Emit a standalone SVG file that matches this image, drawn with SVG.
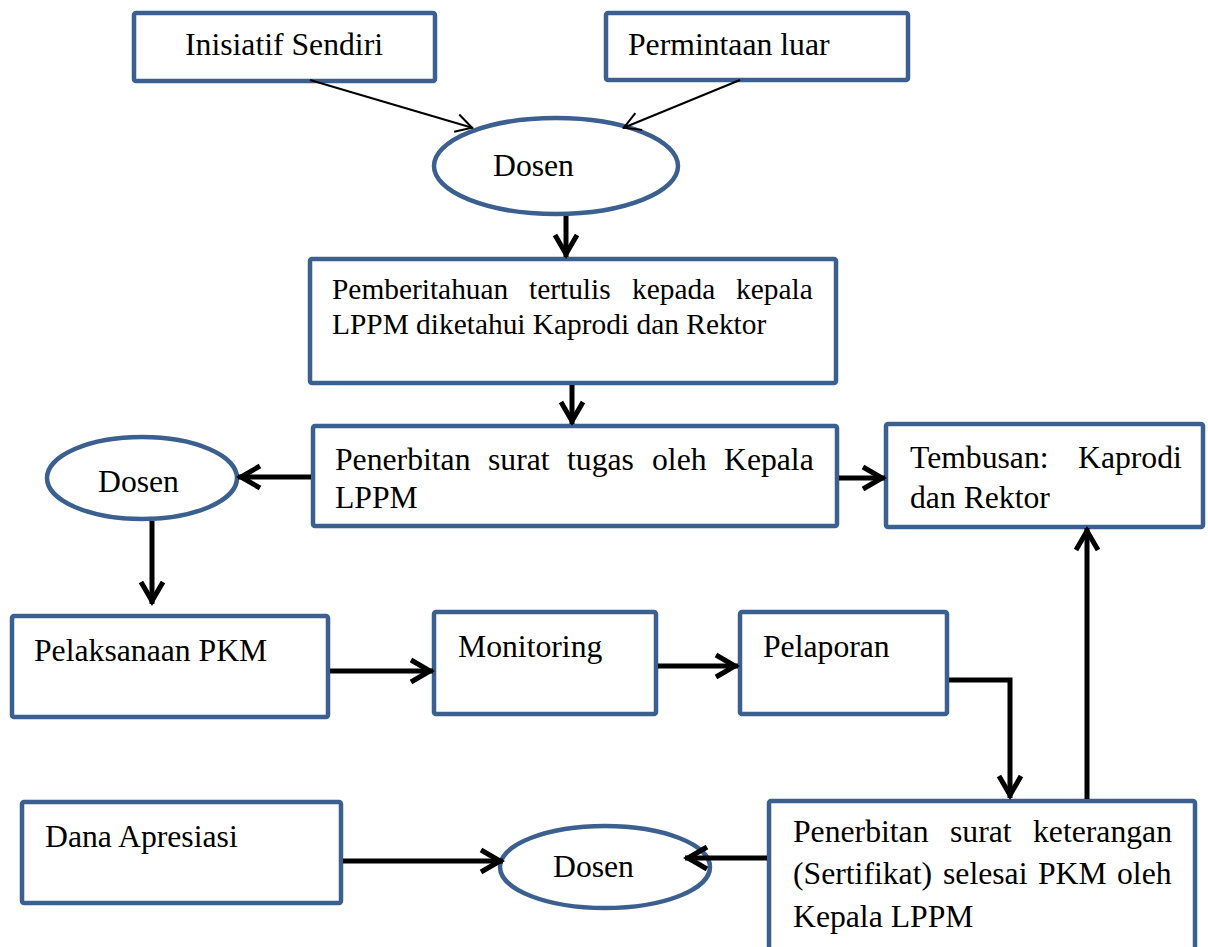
<svg xmlns="http://www.w3.org/2000/svg" width="1208" height="947" viewBox="0 0 1208 947">
<defs>
<style>
.box{fill:#fff;stroke:#3B5F8F;stroke-width:4.5}
.t{font-family:"Liberation Serif","Times New Roman",serif;font-size:31.7px;fill:#000}
.s{font-size:29.4px}
.c{fill:none;stroke:#000;stroke-width:5}
.thin{fill:none;stroke:#000;stroke-width:2}
</style>
<marker id="ah" markerUnits="userSpaceOnUse" markerWidth="40" markerHeight="40" refX="0" refY="0" viewBox="-30 -20 40 40" orient="auto" overflow="visible">
<path d="M-22,-11 L-3,0 L-22,11" fill="none" stroke="#000" stroke-width="5"/>
</marker>
<marker id="ahs" markerUnits="userSpaceOnUse" markerWidth="30" markerHeight="30" refX="0" refY="0" viewBox="-20 -15 30 30" orient="auto" overflow="visible">
<path d="M-17,-9 L-1,0 L-17,9" fill="none" stroke="#000" stroke-width="2"/>
</marker>
</defs>
<rect width="1208" height="947" fill="#fff"/>

<g id="inisiatif">
<rect class="box" x="134" y="13" width="301" height="68" rx="2"/>
<text class="t" x="185" y="55">Inisiatif Sendiri</text>
</g>
<g id="permintaan">
<rect class="box" x="606" y="13" width="302" height="67" rx="2"/>
<text class="t" x="628" y="55">Permintaan luar</text>
</g>
<g id="dosen1">
<ellipse class="box" cx="556" cy="166" rx="122" ry="48"/>
<text class="t" x="493" y="176">Dosen</text>
</g>
<g id="pemberitahuan">
<rect class="box" x="310" y="259" width="526" height="124" rx="2"/>
<text class="t s" y="299"><tspan x="332">Pemberitahuan</tspan><tspan x="529">tertulis</tspan><tspan x="632">kepada</tspan><tspan x="736">kepala</tspan></text>
<text class="t s" x="332" y="334">LPPM diketahui Kaprodi dan Rektor</text>
</g>
<g id="penerbitan-tugas">
<rect class="box" x="313" y="426" width="524" height="100" rx="2"/>
<text class="t" y="470"><tspan x="335">Penerbitan</tspan><tspan x="488">surat</tspan><tspan x="567">tugas</tspan><tspan x="652">oleh</tspan><tspan x="724">Kepala</tspan></text>
<text class="t" x="335" y="508">LPPM</text>
</g>
<g id="tembusan">
<rect class="box" x="886" y="424" width="317" height="103" rx="2"/>
<text class="t" y="468"><tspan x="910">Tembusan:</tspan><tspan x="1078">Kaprodi</tspan></text>
<text class="t" x="910" y="508">dan Rektor</text>
</g>
<g id="dosen2">
<ellipse class="box" cx="142" cy="478" rx="95" ry="41"/>
<text class="t" x="98" y="492">Dosen</text>
</g>
<g id="pelaksanaan">
<rect class="box" x="12" y="616" width="316" height="101" rx="2"/>
<text class="t" x="34" y="661">Pelaksanaan PKM</text>
</g>
<g id="monitoring">
<rect class="box" x="434" y="612" width="222" height="102" rx="2"/>
<text class="t" x="458" y="657">Monitoring</text>
</g>
<g id="pelaporan">
<rect class="box" x="740" y="612" width="207" height="102" rx="2"/>
<text class="t" x="763" y="657">Pelaporan</text>
</g>
<g id="penerbitan-keterangan">
<rect class="box" x="769" y="801" width="426" height="150" rx="2"/>
<text class="t" y="842"><tspan x="793">Penerbitan</tspan><tspan x="950">surat</tspan><tspan x="1033">keterangan</tspan></text>
<text class="t" y="884"><tspan x="793">(Sertifikat)</tspan><tspan x="943">selesai</tspan><tspan x="1038">PKM</tspan><tspan x="1117">oleh</tspan></text>
<text class="t" x="793" y="927">Kepala LPPM</text>
</g>
<g id="dana">
<rect class="box" x="22" y="802" width="319" height="101" rx="2"/>
<text class="t" x="45" y="847">Dana Apresiasi</text>
</g>
<g id="dosen3">
<ellipse class="box" cx="605" cy="867" rx="105" ry="41"/>
<text class="t" x="553" y="877">Dosen</text>
</g>

<g id="connectors">
<line class="thin" x1="310" y1="80" x2="473" y2="128" marker-end="url(#ahs)"/>
<line class="thin" x1="740" y1="80" x2="623" y2="128" marker-end="url(#ahs)"/>
<line class="c" x1="566" y1="216" x2="566" y2="257" marker-end="url(#ah)"/>
<line class="c" x1="572" y1="385" x2="572" y2="424" marker-end="url(#ah)"/>
<line class="c" x1="311" y1="477" x2="238" y2="477" marker-end="url(#ah)"/>
<line class="c" x1="839" y1="478" x2="885" y2="478" marker-end="url(#ah)"/>
<line class="c" x1="152" y1="521" x2="152" y2="604" marker-end="url(#ah)"/>
<line class="c" x1="330" y1="671" x2="433" y2="671" marker-end="url(#ah)"/>
<line class="c" x1="658" y1="666" x2="738" y2="666" marker-end="url(#ah)"/>
<polyline class="c" points="949,680 1010,680 1010,798" marker-end="url(#ah)"/>
<line class="c" x1="1087" y1="799" x2="1087" y2="528" marker-end="url(#ah)"/>
<line class="c" x1="767" y1="858" x2="685" y2="858" marker-end="url(#ah)"/>
<line class="c" x1="343" y1="861" x2="503" y2="861" marker-end="url(#ah)"/>
</g>
</svg>
